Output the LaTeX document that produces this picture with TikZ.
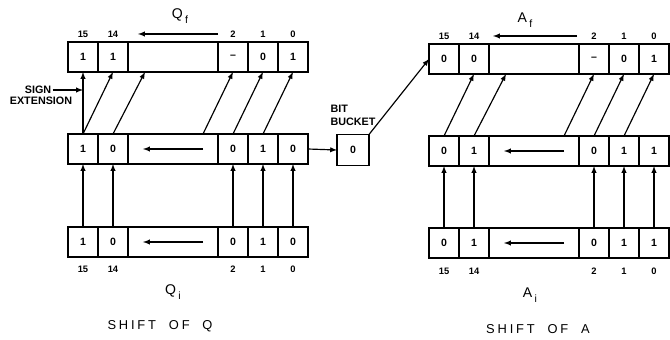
\documentclass[tikz,border=0pt]{standalone}
\usepackage{fontspec}
\setsansfont{Liberation Sans}
\newfontfamily\spacedfont[LetterSpace=22]{Liberation Sans}
\usetikzlibrary{arrows,positioning,calc}

\begin{document}
\begin{tikzpicture}[x=0.03cm, y=-0.03cm,
    cell/.style={draw, rectangle, line width=1.1pt, minimum width=0.9cm, minimum height=0.9cm, inner sep=0pt, outer sep=0pt, font=\small\bfseries\sffamily},
    wide/.style={cell, minimum width=2.7cm},
    idx/.style={font=\footnotesize\bfseries\sffamily, inner sep=1pt},
    tag/.style={font=\fontsize{9.2}{11}\bfseries\sffamily, inner sep=1pt},
    reg/.style={font=\large\sffamily},
    caption/.style={font=\fontsize{11}{13}\spacedfont},
    flow/.style={-latex, line width=1pt}]
    \useasboundingbox (0,0) rectangle (670,340);

    % Q final
    \node[cell] (qf15) at (83,57) {1};
    \node[cell] (qf14) at (113,57) {1};
    \node[wide] (qfm) at (173,57) {};
    \node[cell] (qf2) at (233,57) {--};
    \node[cell] (qf1) at (263,57) {0};
    \node[cell] (qf0) at (293,57) {1};

    % Q middle
    \node[cell] (qm15) at (83,149) {1};
    \node[cell] (qm14) at (113,149) {0};
    \node[wide] (qmm) at (173,149) {};
    \node[cell] (qm2) at (233,149) {0};
    \node[cell] (qm1) at (263,149) {1};
    \node[cell] (qm0) at (293,149) {0};

    % Q initial
    \node[cell] (qi15) at (83,242) {1};
    \node[cell] (qi14) at (113,242) {0};
    \node[wide] (qim) at (173,242) {};
    \node[cell] (qi2) at (233,242) {0};
    \node[cell] (qi1) at (263,242) {1};
    \node[cell] (qi0) at (293,242) {0};

    % A final
    \node[cell] (af15) at (444,59) {0};
    \node[cell] (af14) at (474,59) {0};
    \node[wide] (afm) at (534,59) {};
    \node[cell] (af2) at (594,59) {--};
    \node[cell] (af1) at (624,59) {0};
    \node[cell] (af0) at (654,59) {1};

    % A middle
    \node[cell] (am15) at (444,151) {0};
    \node[cell] (am14) at (474,151) {1};
    \node[wide] (amm) at (534,151) {};
    \node[cell] (am2) at (594,151) {0};
    \node[cell] (am1) at (624,151) {1};
    \node[cell] (am0) at (654,151) {1};

    % A initial
    \node[cell] (ai15) at (444,243) {0};
    \node[cell] (ai14) at (474,243) {1};
    \node[wide] (aim) at (534,243) {};
    \node[cell] (ai2) at (594,243) {0};
    \node[cell] (ai1) at (624,243) {1};
    \node[cell] (ai0) at (654,243) {1};

    % Bit numbers
    \node[idx, above=0.1cm of qf15] (qf15n) {15};
    \node[idx, above=0.1cm of qf14] (qf14n) {14};
    \node[idx, above=0.1cm of qf2] (qf2n) {2};
    \node[idx, above=0.1cm of qf1] (qf1n) {1};
    \node[idx, above=0.1cm of qf0] (qf0n) {0};
    \node[idx, below=0.22cm of qi15] (qi15n) {15};
    \node[idx, below=0.22cm of qi14] (qi14n) {14};
    \node[idx, below=0.22cm of qi2] (qi2n) {2};
    \node[idx, below=0.22cm of qi1] (qi1n) {1};
    \node[idx, below=0.22cm of qi0] (qi0n) {0};
    \node[idx, above=0.1cm of af15] (af15n) {15};
    \node[idx, above=0.1cm of af14] (af14n) {14};
    \node[idx, above=0.1cm of af2] (af2n) {2};
    \node[idx, above=0.1cm of af1] (af1n) {1};
    \node[idx, above=0.1cm of af0] (af0n) {0};
    \node[idx, below=0.27cm of ai15] (ai15n) {15};
    \node[idx, below=0.27cm of ai14] (ai14n) {14};
    \node[idx, below=0.27cm of ai2] (ai2n) {2};
    \node[idx, below=0.27cm of ai1] (ai1n) {1};
    \node[idx, below=0.27cm of ai0] (ai0n) {0};

    % Register names and captions
    \node[reg] (qfl) at (180,16) {Q\,\raisebox{-0.6ex}{\small f}};
    \node[reg] (qil) at (173,292) {Q\,\raisebox{-0.6ex}{\small i}};
    \node[reg] (afl) at (525,20) {A\,\raisebox{-0.6ex}{\small f}};
    \node[reg] (ail) at (530,295) {A\,\raisebox{-0.6ex}{\small i}};
    \node[caption] (qcap) at (160,326) {SHIFT\ \ OF\ \ Q};
    \node[caption] (acap) at (538,329) {SHIFT\ \ OF\ \ A};

    % Bit bucket and sign extension
    \node[cell, minimum width=0.96cm, minimum height=0.93cm] (bucket) at (353,150) {0};
    \node[tag, align=left, above=0.22cm of bucket] (bucketl) {BIT\\BUCKET};
    \node[tag] (sign) at (38,90) {SIGN};
    \node[tag] (ext) at (41,101) {EXTENSION};

    % Shift direction
    \draw[flow] (qfm.east |- qf2n) -- ($(qfm.west |- qf2n)+(10,0)$);
    \draw[flow] ($(qmm.east)+(-15,0)$) -- ($(qmm.west)+(15,0)$);
    \draw[flow] ($(qim.east)+(-15,0)$) -- ($(qim.west)+(15,0)$);
    \draw[flow] ($(afm.east |- af2n)+(-2,0)$) -- ($(afm.west |- af2n)+(4,0)$);
    \draw[flow] ($(amm.east)+(-15,0)$) -- ($(amm.west)+(15,0)$);
    \draw[flow] ($(aim.east)+(-15,0)$) -- ($(aim.west)+(15,0)$);

    % Load Q
    \draw[flow] (qi15) -- (qm15);
    \draw[flow] (qi14) -- (qm14);
    \draw[flow] (qi2) -- (qm2);
    \draw[flow] (qi1) -- (qm1);
    \draw[flow] (qi0) -- (qm0);

    % Shift Q
    \draw[flow] (qm15.north) -- (qf15.south);
    \draw[flow] (qm15.north) -- (qf14.south);
    \draw[flow] (qm14.north) -- ($(qfm.south west)+(17,0)$);
    \draw[flow] ($(qmm.north east)+(-15,0)$) -- (qf2.south);
    \draw[flow] (qm2.north) -- (qf1.south);
    \draw[flow] (qm1.north) -- (qf0.south);
    \draw[flow] (sign.east) -- (sign.east -| qm15.north);
    \draw[flow] (qm0.east) -- (bucket.west);

    % Load A
    \draw[flow] (ai15) -- (am15);
    \draw[flow] (ai14) -- (am14);
    \draw[flow] (ai2) -- (am2);
    \draw[flow] (ai1) -- (am1);
    \draw[flow] (ai0) -- (am0);

    % Shift A
    \draw[flow] (bucket.north east) -- (af15.west);
    \draw[flow] (am15.north) -- (af14.south);
    \draw[flow] (am14.north) -- ($(afm.south west)+(17,0)$);
    \draw[flow] ($(amm.north east)+(-15,0)$) -- (af2.south);
    \draw[flow] (am2.north) -- (af1.south);
    \draw[flow] (am1.north) -- (af0.south);
\end{tikzpicture}
\end{document}
